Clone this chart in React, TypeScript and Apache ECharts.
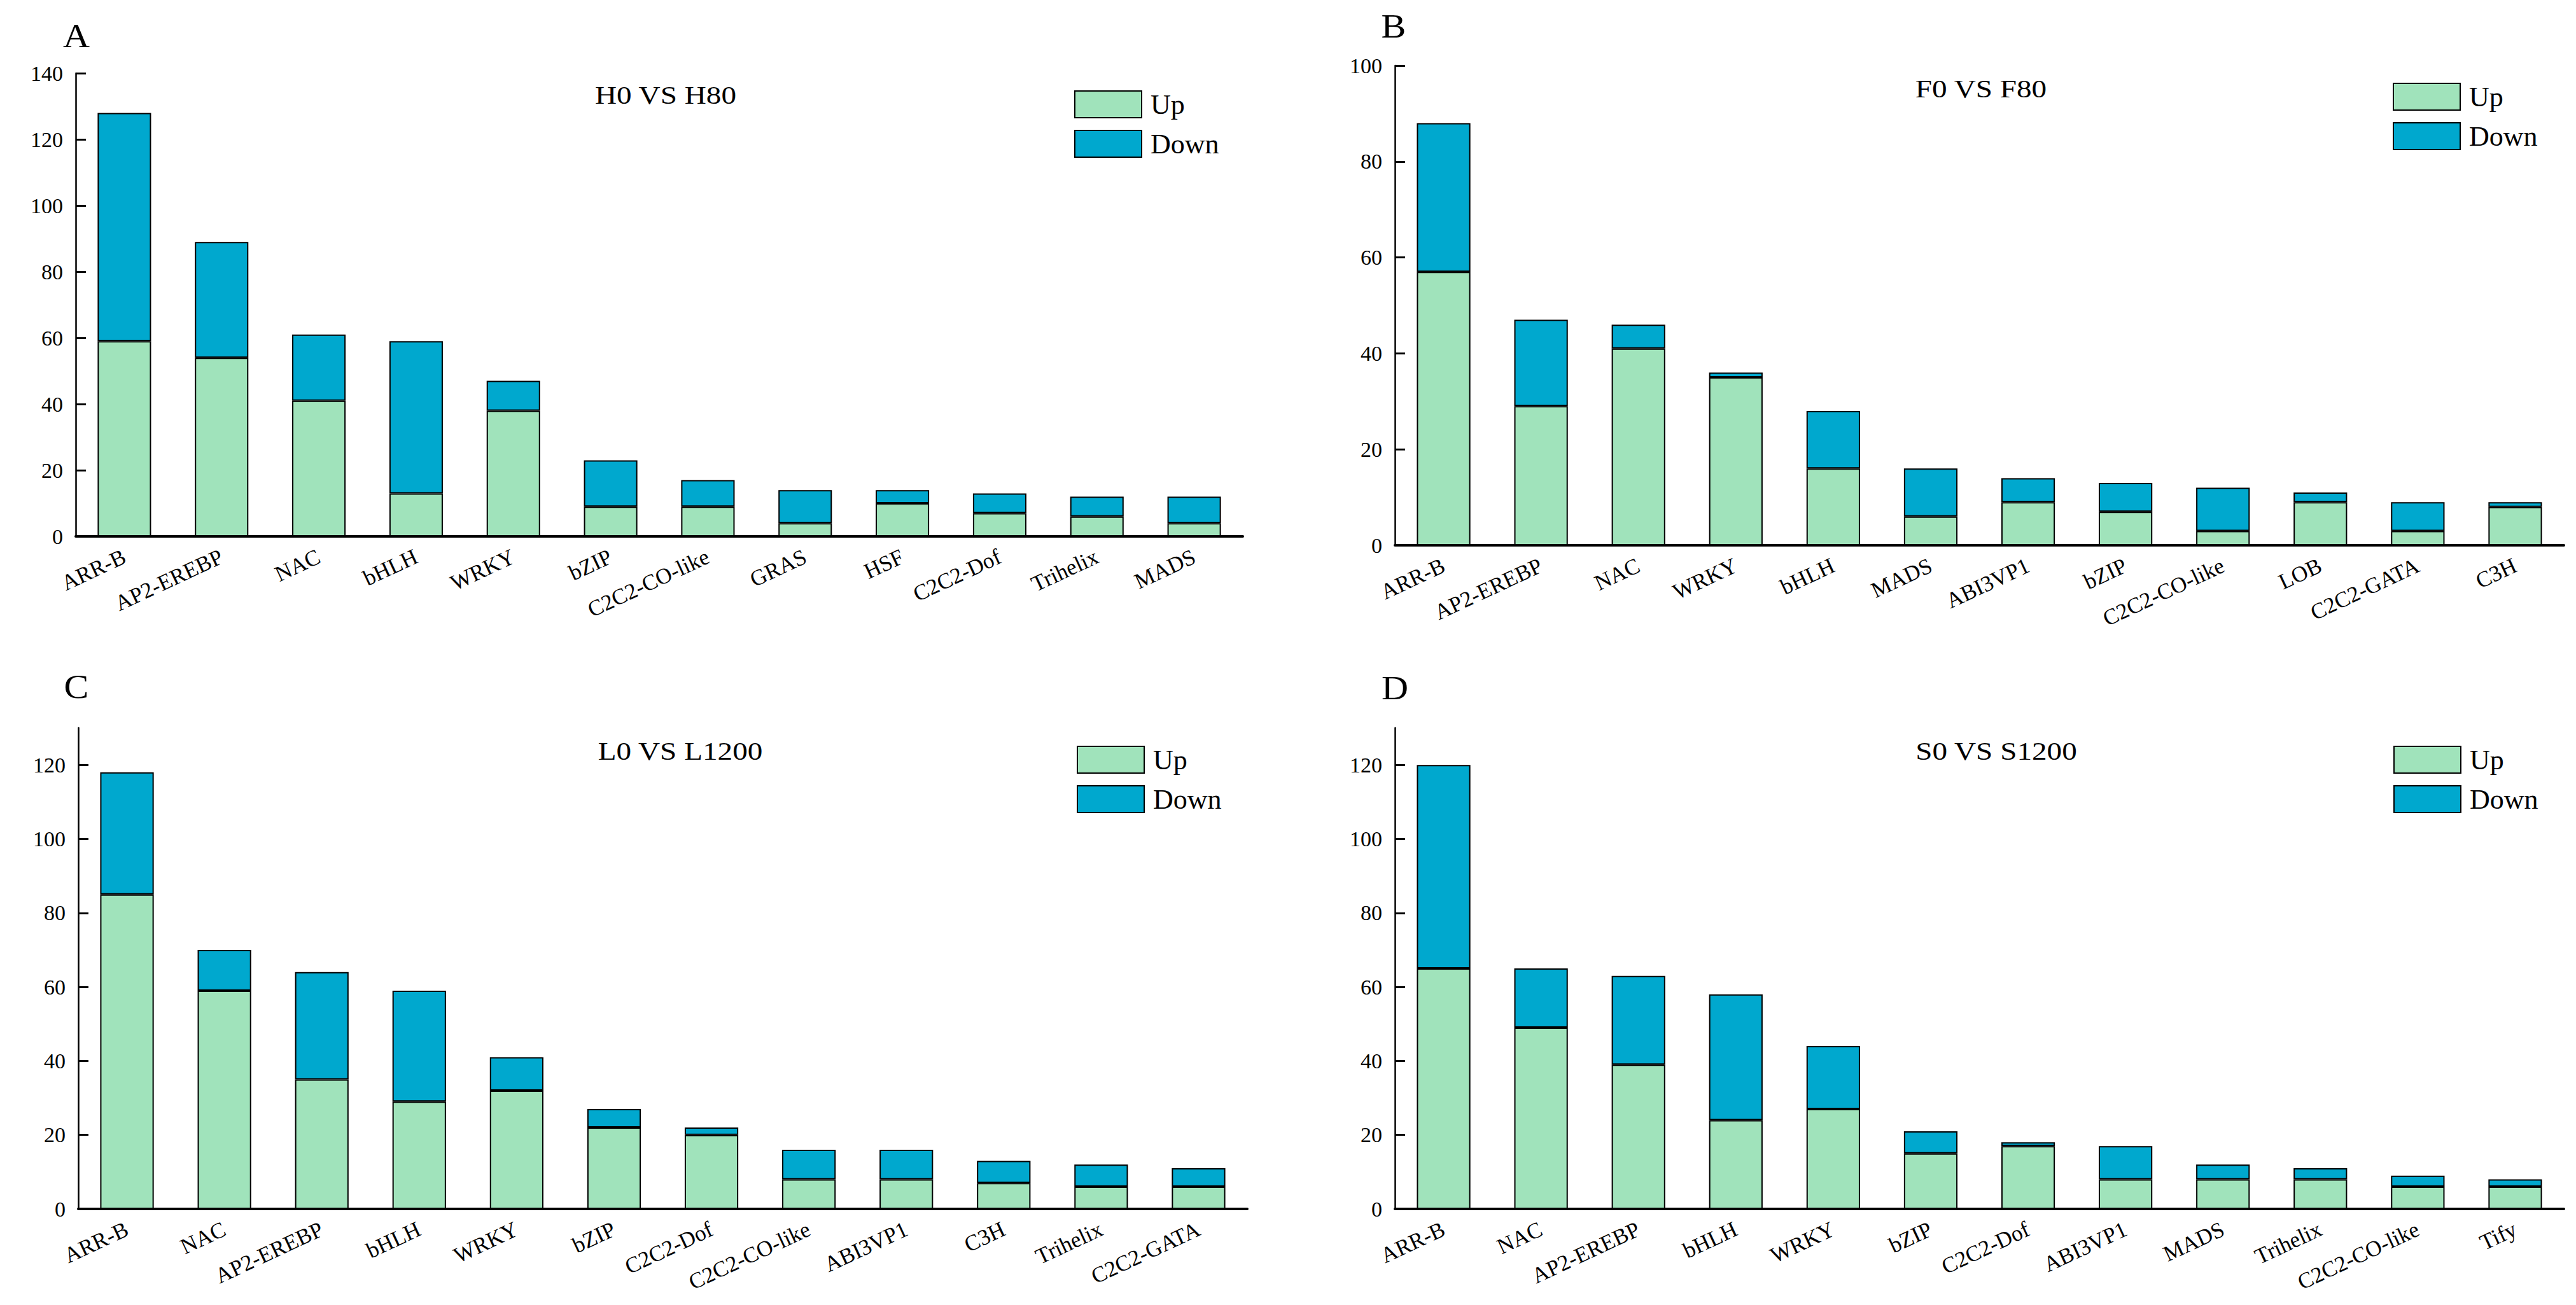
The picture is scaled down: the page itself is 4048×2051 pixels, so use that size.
import React, { useEffect, useRef } from "react";
import * as echarts from "echarts";

const catsA = ["ARR-B", "AP2-EREBP", "NAC", "bHLH", "WRKY", "bZIP", "C2C2-CO-like", "GRAS", "HSF", "C2C2-Dof", "Trihelix", "MADS"];
const upA = [59, 54, 41, 13, 38, 9, 9, 4, 10, 7, 6, 4];
const downA = [69, 35, 20, 46, 9, 14, 8, 10, 4, 6, 6, 8];

const catsB = ["ARR-B", "AP2-EREBP", "NAC", "WRKY", "bHLH", "MADS", "ABI3VP1", "bZIP", "C2C2-CO-like", "LOB", "C2C2-GATA", "C3H"];
const upB = [57, 29, 41, 35, 16, 6, 9, 7, 3, 9, 3, 8];
const downB = [31, 18, 5, 1, 12, 10, 5, 6, 9, 2, 6, 1];

const catsC = ["ARR-B", "NAC", "AP2-EREBP", "bHLH", "WRKY", "bZIP", "C2C2-Dof", "C2C2-CO-like", "ABI3VP1", "C3H", "Trihelix", "C2C2-GATA"];
const upC = [85, 59, 35, 29, 32, 22, 20, 8, 8, 7, 6, 6];
const downC = [33, 11, 29, 30, 9, 5, 2, 8, 8, 6, 6, 5];

const catsD = ["ARR-B", "NAC", "AP2-EREBP", "bHLH", "WRKY", "bZIP", "C2C2-Dof", "ABI3VP1", "MADS", "Trihelix", "C2C2-CO-like", "Tify"];
const upD = [65, 49, 39, 24, 27, 15, 17, 8, 8, 8, 6, 6];
const downD = [55, 16, 24, 34, 17, 6, 1, 9, 4, 3, 3, 2];

const panelLetters = ["A", "B", "C", "D"];
const panelTitles = ["H0 VS H80", "F0 VS F80", "L0 VS L1200", "S0 VS S1200"];
const yMax = [140, 100, 130, 130];
const yTicks = [
  [0, 20, 40, 60, 80, 100, 120, 140],
  [0, 20, 40, 60, 80, 100],
  [0, 20, 40, 60, 80, 100, 120],
  [0, 20, 40, 60, 80, 100, 120],
];

const FONT = "'Liberation Serif', 'Times New Roman', serif";
const GREEN = "#A0E3BB";
const BLUE = "#00A8CE";

const grids = [
  { left: 119, top: 115, width: 1834, height: 728 },
  { left: 2192, top: 103, width: 1837, height: 754 },
  { left: 123, top: 1144, width: 1837, height: 756 },
  { left: 2192, top: 1144, width: 1837, height: 756 },
];
const letterPos = [
  [120, 57],
  [2190, 42],
  [120, 1080],
  [2192, 1082],
];
const titlePos = [
  [1046, 149],
  [3113, 139],
  [1069, 1180],
  [3137, 1180],
];
const legendPos = [
  [1688, 142],
  [3760, 130],
  [1692, 1172],
  [3761, 1172],
];

export default function App() {
  const ref = useRef<HTMLDivElement>(null);
  useEffect(() => {
    if (!ref.current) return;
    const chart = echarts.init(ref.current, null, { renderer: "svg" });
    const cats = [catsA, catsB, catsC, catsD];
    const ups = [upA, upB, upC, upD];
    const downs = [downA, downB, downC, downD];

    const option: any = {
      animation: false,
      backgroundColor: "#ffffff",
      grid: grids.map((g) => ({ ...g, containLabel: false, outerBoundsMode: "none" })),
      xAxis: cats.map((c, i) => ({
        type: "category",
        gridIndex: i,
        data: c,
        boundaryGap: true,
        axisLine: { show: true, lineStyle: { color: "#000", width: 4 } },
        axisTick: { show: false },
        axisLabel: {
          interval: 0,
          rotate: 25,
          margin: 30,
          fontFamily: FONT,
          fontSize: 35,
          color: "#000",
        },
        splitLine: { show: false },
      })),
      yAxis: yMax.map((m, i) => ({
        type: "value",
        gridIndex: i,
        min: 0,
        max: m,
        interval: 20,
        axisLine: { show: true, lineStyle: { color: "#000", width: 2.5 } },
        axisTick: {
          show: true,
          inside: true,
          length: 16,
          lineStyle: { color: "#000", width: 3 },
          customValues: yTicks[i],
        },
        axisLabel: {
          margin: 20,
          fontFamily: FONT,
          fontSize: 34,
          color: "#000",
          customValues: yTicks[i],
        },
        splitLine: { show: false },
      })),
      legend: legendPos.map((p) => ({
        left: p[0],
        top: p[1],
        orient: "vertical",
        padding: 0,
        itemWidth: 105,
        itemHeight: 42,
        itemGap: 18,
        icon: "rect",
        selectedMode: false,
        data: ["Up", "Down"],
        textStyle: { fontFamily: FONT, fontSize: 44, color: "#000", padding: [0, 0, 0, 9] },
      })),
      series: cats.flatMap((c, i) => [
        {
          name: "Up",
          type: "bar",
          stack: "s" + i,
          xAxisIndex: i,
          yAxisIndex: i,
          barWidth: "55%",
          data: ups[i],
          itemStyle: { color: GREEN, borderColor: "#000", borderWidth: 2 },
        },
        {
          name: "Down",
          type: "bar",
          stack: "s" + i,
          xAxisIndex: i,
          yAxisIndex: i,
          barWidth: "55%",
          data: downs[i],
          itemStyle: { color: BLUE, borderColor: "#000", borderWidth: 2 },
        },
      ]),
      graphic: [
        ...panelLetters.map((t, i) => ({
          type: "text",
          x: letterPos[i][0],
          y: letterPos[i][1],
          scaleX: 1.12,
          style: {
            text: t,
            fontFamily: FONT,
            fontSize: 52,
            fill: "#000",
            align: "center",
            verticalAlign: "middle",
          },
        })),
        ...panelTitles.map((t, i) => ({
          type: "text",
          x: titlePos[i][0],
          y: titlePos[i][1],
          scaleX: 1.18,
          style: {
            text: t,
            fontFamily: FONT,
            fontSize: 40,
            fill: "#000",
            align: "center",
            verticalAlign: "middle",
          },
        })),
      ],
    };
    chart.setOption(option);
    return () => chart.dispose();
  }, []);
  return <div ref={ref} style={{ position: "fixed", left: 0, top: 0, width: "100vw", height: "100vh" }} />;
}
